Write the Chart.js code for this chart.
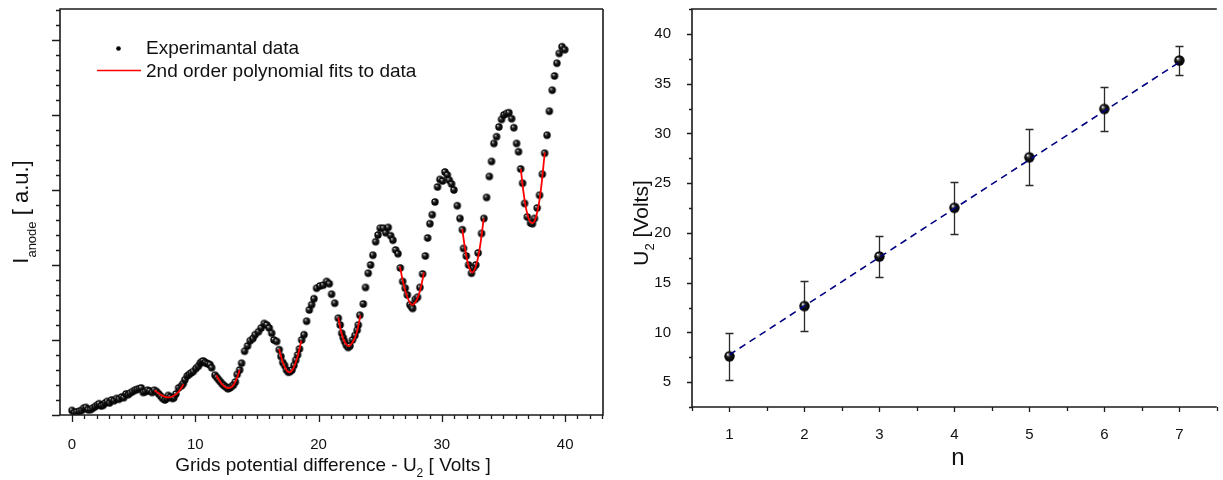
<!DOCTYPE html>
<html>
<head>
<meta charset="utf-8">
<title>Franck-Hertz</title>
<script src="https://cdn.jsdelivr.net/npm/chart.js@4.4.0/dist/chart.umd.min.js"></script>
<style>
  html, body { margin: 0; padding: 0; background: #fff; overflow: hidden; }
  #wrap { position: relative; width: 1223px; height: 480px; }
  #left { position: absolute; left: 0; top: 0; }
  #right { position: absolute; left: 612px; top: 0; }
</style>
</head>
<body>
<div id="wrap">
  <canvas id="left" width="612" height="480"></canvas>
  <canvas id="right" width="611" height="480"></canvas>
</div>
<script>
// anode current curve (arbitrary units, 1 = one major tick)
const volts = [
  0, 0.2, 0.38, 0.6, 0.78, 0.95, 1.13, 1.3, 1.5, 1.68, 1.87, 2.05, 2.2, 2.38, 2.54, 2.7, 2.86, 3.05, 3.22, 3.42,
  3.62, 3.82, 4.03, 4.2, 4.38, 4.55, 4.7, 4.9, 5.1, 5.28, 5.46, 5.62, 5.78, 5.95, 6.14, 6.3, 6.5, 6.68, 6.87, 7.04,
  7.2, 7.35, 7.54, 7.7, 7.81, 8.0, 8.15, 8.27, 8.43, 8.65, 8.89, 9.03, 9.16, 9.35, 9.5, 9.66, 9.84, 10.06, 10.25, 10.4,
  10.52, 10.65, 10.79, 10.92, 11.06, 11.2, 11.33,
  11.6, 11.75, 11.9, 12.05, 12.2, 12.35, 12.5, 12.65, 12.8, 12.95, 13.1, 13.25, 13.4, 13.6,
  13.76, 14.0, 14.24, 14.46, 14.68, 14.86, 15.13, 15.35, 15.6, 15.8, 16.0, 16.2, 16.38, 16.6,
  16.81, 16.95, 17.1, 17.25, 17.4, 17.55, 17.7, 17.85, 18.0, 18.15, 18.3, 18.45, 18.63,
  18.82, 19.03, 19.25, 19.44, 19.63, 19.84, 20.11, 20.38, 20.65, 20.87, 21.06, 21.31,
  21.6, 21.75, 21.88, 22.0, 22.11, 22.25, 22.4, 22.55, 22.75, 22.95, 23.13, 23.22, 23.35,
  23.63, 23.81, 24.03, 24.22, 24.41, 24.63, 24.82, 25.0, 25.25, 25.44, 25.65, 25.85, 26.03, 26.25, 26.44,
  26.63, 26.82, 27.03, 27.2, 27.41, 27.55, 27.63, 27.84, 28.03, 28.22, 28.44,
  28.66, 28.85, 29.03, 29.22, 29.44, 29.65, 29.84, 30.06, 30.25, 30.44, 30.6, 30.79, 30.98, 31.25, 31.47,
  31.66, 31.76, 31.98, 32.17, 32.4, 32.56, 32.75, 32.94, 33.22, 33.41,
  33.63, 33.85, 34.03, 34.22, 34.44, 34.63, 34.84, 35.03, 35.25, 35.44, 35.66, 35.84, 36.06, 36.22,
  36.39, 36.55, 36.71, 36.93, 37.19, 37.35, 37.51, 37.73, 37.92, 38.15, 38.34,
  38.53, 38.72, 38.95, 39.14, 39.33, 39.52, 39.74, 39.97
];
const current = [
  0.06, 0.03, 0.04, 0.05, 0.06, 0.09, 0.1, 0.07, 0.07, 0.09, 0.11, 0.13, 0.15, 0.12, 0.13, 0.16, 0.18, 0.16, 0.2, 0.19,
  0.22, 0.21, 0.24, 0.23, 0.28, 0.27, 0.29, 0.31, 0.33, 0.34, 0.35, 0.36, 0.3, 0.31, 0.33, 0.32, 0.3, 0.33, 0.31, 0.28,
  0.25, 0.22, 0.2, 0.22, 0.26, 0.24, 0.22, 0.23, 0.28, 0.36, 0.39, 0.42, 0.47, 0.52, 0.54, 0.56, 0.58, 0.62, 0.65, 0.69,
  0.71, 0.72, 0.7, 0.69, 0.68, 0.67, 0.63,
  0.53, 0.5, 0.47, 0.44, 0.41, 0.39, 0.37, 0.35, 0.36, 0.38, 0.4, 0.44, 0.54, 0.6,
  0.69, 0.85, 0.92, 0.99, 1.02, 1.07, 1.11, 1.16, 1.22, 1.2, 1.16, 1.09, 1.0, 0.98,
  0.87, 0.78, 0.7, 0.66, 0.6, 0.57, 0.58, 0.6, 0.66, 0.73, 0.8, 0.88, 1.0,
  1.07, 1.25, 1.4, 1.47, 1.55, 1.69, 1.72, 1.73, 1.78, 1.75, 1.61, 1.49,
  1.29, 1.2, 1.09, 1.03, 0.98, 0.93, 0.9, 0.92, 1.0, 1.06, 1.13, 1.2, 1.33,
  1.48, 1.7, 1.89, 2.0, 2.13, 2.31, 2.4, 2.49, 2.49, 2.43, 2.5, 2.39, 2.33, 2.2, 2.15,
  1.96, 1.78, 1.69, 1.6, 1.47, 1.44, 1.42, 1.54, 1.57, 1.7, 1.88,
  2.12, 2.36, 2.55, 2.67, 2.84, 3.04, 3.14, 3.12, 3.24, 3.2, 3.13, 3.08, 3.0, 2.79, 2.62,
  2.47, 2.22, 2.12, 2.0, 1.89, 1.96, 2.0, 2.16, 2.42, 2.62,
  2.9, 3.18, 3.38, 3.62, 3.71, 3.84, 3.94, 4.0, 4.02, 4.03, 3.95, 3.83, 3.62, 3.51,
  3.28, 3.09, 2.82, 2.64, 2.56, 2.55, 2.62, 2.76, 2.93, 3.21, 3.49,
  3.73, 4.05, 4.33, 4.52, 4.69, 4.82, 4.91, 4.87
];

// parabola fits around each minimum
const fitVolts = [
  [6.7, 7.1, 7.5, 7.9, 8.3, 8.7, 9.05],
  [11.7, 12.0, 12.3, 12.65, 13.0, 13.3, 13.6],
  [16.8, 17.1, 17.4, 17.65, 17.95, 18.3, 18.6],
  [21.6, 21.85, 22.1, 22.45, 22.8, 23.1, 23.4],
  [26.6, 26.9, 27.25, 27.6, 27.95, 28.25, 28.55],
  [31.65, 31.9, 32.15, 32.45, 32.75, 33.05, 33.4],
  [36.4, 36.7, 37.0, 37.3, 37.6, 37.95, 38.35]
];
const fitCurrent = [
  [0.33, 0.28, 0.245, 0.235, 0.26, 0.32, 0.41],
  [0.53, 0.45, 0.39, 0.36, 0.38, 0.46, 0.6],
  [0.88, 0.7, 0.6, 0.57, 0.62, 0.78, 0.99],
  [1.3, 1.1, 0.98, 0.92, 0.98, 1.1, 1.33],
  [1.98, 1.74, 1.55, 1.47, 1.53, 1.67, 1.9],
  [2.48, 2.2, 2.0, 1.9, 1.98, 2.2, 2.62],
  [3.28, 2.88, 2.64, 2.56, 2.62, 2.9, 3.5]
];

// minima positions vs order n
const order = [1, 2, 3, 4, 5, 6, 7];
const minimaU2 = [7.6, 12.65, 17.63, 22.52, 27.6, 32.46, 37.33];
const minimaErr = [2.35, 2.5, 2.06, 2.6, 2.8, 2.25, 1.45];
const lineN = [1, 7];
const lineU2 = [7.75, 37.15];

const voltTicks = [0, 10, 20, 30, 40];
const orderTicks = [1, 2, 3, 4, 5, 6, 7];
const u2Ticks = [5, 10, 15, 20, 25, 30, 35, 40];

const FONT = '"Liberation Sans", Arial, sans-serif';

function sphere(r, light) {
  const c = document.createElement('canvas');
  const d = Math.ceil(2 * r + 2);
  c.width = d;
  c.height = d;
  const g = c.getContext('2d');
  const m = d / 2;
  const grad = g.createRadialGradient(m - r * 0.35, m - r * 0.4, r * 0.05, m, m, r);
  grad.addColorStop(0, light);
  grad.addColorStop(0.2, '#6a6a6a');
  grad.addColorStop(0.45, '#141414');
  grad.addColorStop(1, '#000');
  g.fillStyle = grad;
  g.beginPath();
  g.arc(m, m, r, 0, Math.PI * 2);
  g.fill();
  return c;
}

// text with subscripts; parts = [text, size, dy]
function drawRich(ctx, parts, x, y, rotate) {
  ctx.save();
  ctx.translate(x, y);
  if (rotate) ctx.rotate(-Math.PI / 2);
  let w = 0;
  parts.forEach(p => { ctx.font = p[1] + 'px ' + FONT; w += ctx.measureText(p[0]).width; });
  let cx = -w / 2;
  ctx.fillStyle = '#111';
  ctx.textBaseline = 'alphabetic';
  ctx.textAlign = 'left';
  parts.forEach(p => {
    ctx.font = p[1] + 'px ' + FONT;
    ctx.fillText(p[0], cx, p[2] || 0);
    cx += ctx.measureText(p[0]).width;
  });
  ctx.restore();
}

const frame = {
  id: 'frame',
  afterDraw(chart, args, o) {
    const { ctx, chartArea: a, scales } = chart;
    ctx.save();
    ctx.strokeStyle = '#1b1b1b';
    ctx.lineWidth = 1.6;
    ctx.beginPath();
    ctx.moveTo(a.right, a.top);
    ctx.lineTo(a.left, a.top);
    ctx.lineTo(a.left, a.bottom);
    ctx.lineTo(a.right, a.bottom);
    if (o.closeRight) ctx.lineTo(a.right, a.top);
    ctx.stroke();

    ctx.lineWidth = 1.3;
    ctx.beginPath();
    const mark = (axis, v, len) => {
      const p = Math.round(scales[axis].getPixelForValue(v)) + 0.5;
      if (axis === 'x') { ctx.moveTo(p, a.bottom); ctx.lineTo(p, a.bottom + len); }
      else { ctx.moveTo(a.left, p); ctx.lineTo(a.left - len, p); }
    };
    ['x', 'y'].forEach(axis => {
      const s = scales[axis];
      const t = o[axis];
      for (let v = Math.ceil(s.min / t.minor - 1e-6) * t.minor; v <= s.max + 1e-6; v += t.minor) {
        const isMajor = Math.abs(Math.round(v / t.major) * t.major - v) < 1e-6;
        mark(axis, v, isMajor ? t.majorLen : t.minorLen);
      }
    });
    ctx.stroke();

    (o.titles || []).forEach(t => drawRich(ctx, t.parts, t.x, t.y, t.rotate));
    ctx.restore();
  }
};

const fixedTicks = values => scale => { scale.ticks = values.map(v => ({ value: v })); };
// size the axis box exactly and drop the label overhang padding chart.js adds
const fitBox = (prop, size) => scale => {
  scale[prop] = size;
  scale.paddingTop = 0;
  scale.paddingBottom = 0;
  scale.paddingLeft = 0;
  scale.paddingRight = 0;
};

// ---------- left chart ----------
const dotImg = sphere(3.7, '#c8c8c8');
const fitSets = fitVolts.map((vs, i) => ({
  label: i === 0 ? '2nd order polynomial fits to data' : 'fit' + i,
  data: vs.map((v, j) => ({ x: v, y: fitCurrent[i][j] })),
  showLine: true,
  borderColor: '#ff0000',
  borderWidth: 1.8,
  pointRadius: 0,
  tension: 0.4
}));

const legendIn = {
  id: 'legendIn',
  afterDraw(chart) {
    const ctx = chart.ctx;
    ctx.save();
    ctx.fillStyle = '#000';
    ctx.beginPath();
    ctx.arc(118.5, 48.5, 2.3, 0, Math.PI * 2);
    ctx.fill();
    ctx.strokeStyle = '#ff0000';
    ctx.lineWidth = 1.6;
    ctx.beginPath();
    ctx.moveTo(97, 70.5);
    ctx.lineTo(141, 70.5);
    ctx.stroke();
    ctx.fillStyle = '#111';
    ctx.font = '19px ' + FONT;
    ctx.textBaseline = 'alphabetic';
    ctx.fillText('Experimantal data', 146, 54);
    ctx.fillText('2nd order polynomial fits to data', 146, 77);
    ctx.restore();
  }
};

new Chart(document.getElementById('left'), {
  type: 'scatter',
  data: {
    datasets: [...fitSets, {
      label: 'Experimantal data',
      data: volts.map((v, i) => ({ x: v, y: current[i] })),
      pointStyle: dotImg,
      pointRadius: 3.7
    }]
  },
  options: {
    responsive: false,
    animation: false,
    layout: { padding: { top: 9, right: 9, left: 0, bottom: 0 } },
    plugins: {
      legend: { display: false },
      tooltip: { enabled: false },
      frame: {
        closeRight: true,
        x: { major: 10, minor: 1, majorLen: 7, minorLen: 4 },
        y: { major: 1, minor: 0.2, majorLen: 8, minorLen: 4 },
        titles: [
          { parts: [['Grids potential difference - U', 19], ['2', 12, 6], [' [ Volts ]', 19]], x: 333, y: 471, rotate: false },
          { parts: [['I', 22], ['anode', 13, 8], [' [ a.u.]', 22]], x: 28, y: 212, rotate: true }
        ]
      }
    },
    scales: {
      x: {
        type: 'linear', min: -0.97, max: 43.07,
        afterBuildTicks: fixedTicks(voltTicks),
        afterFit: fitBox('height', 65),
        grid: { display: false }, border: { display: false },
        ticks: { color: '#111', font: { family: FONT, size: 15 }, padding: 13 }
      },
      y: {
        min: 0, max: 5.413,
        afterFit: fitBox('width', 60),
        grid: { display: false }, border: { display: false },
        ticks: { display: false }
      }
    }
  },
  plugins: [frame, legendIn]
});

// ---------- right chart ----------
const ballImg = sphere(5.2, '#ffffff');

const errorBars = {
  id: 'errorBars',
  beforeDatasetsDraw(chart) {
    const { ctx, scales: { x, y } } = chart;
    ctx.save();
    ctx.strokeStyle = '#2a2a2a';
    ctx.lineWidth = 1.3;
    ctx.beginPath();
    order.forEach((n, i) => {
      const px = Math.round(x.getPixelForValue(n)) + 0.5;
      const top = Math.round(y.getPixelForValue(minimaU2[i] + minimaErr[i])) + 0.5;
      const bot = Math.round(y.getPixelForValue(minimaU2[i] - minimaErr[i])) + 0.5;
      ctx.moveTo(px, top); ctx.lineTo(px, bot);
      ctx.moveTo(px - 4, top); ctx.lineTo(px + 4, top);
      ctx.moveTo(px - 4, bot); ctx.lineTo(px + 4, bot);
    });
    ctx.stroke();
    ctx.restore();
  }
};

new Chart(document.getElementById('right'), {
  type: 'scatter',
  data: {
    datasets: [{
      label: 'linear fit',
      data: lineN.map((n, i) => ({ x: n, y: lineU2[i] })),
      showLine: true,
      borderColor: '#000080',
      borderWidth: 1.6,
      borderDash: [7, 5],
      pointRadius: 0
    }, {
      label: 'U2 minima',
      data: order.map((n, i) => ({ x: n, y: minimaU2[i] })),
      pointStyle: ballImg,
      pointRadius: 5.2
    }]
  },
  options: {
    responsive: false,
    animation: false,
    layout: { padding: { top: 9, right: 0, left: 0, bottom: 0 } },
    plugins: {
      legend: { display: false },
      tooltip: { enabled: false },
      frame: {
        closeRight: false,
        x: { major: 1, minor: 0.5, majorLen: 5, minorLen: 4 },
        y: { major: 5, minor: 2.5, majorLen: 5, minorLen: 3 },
        titles: [
          { parts: [['n', 24]], x: 346, y: 465, rotate: false },
          { parts: [['U', 21], ['2', 13, 6], [' [Volts]', 21]], x: 36, y: 223, rotate: true }
        ]
      }
    },
    scales: {
      x: {
        type: 'linear', min: 0.5, max: 7.5,
        afterBuildTicks: fixedTicks(orderTicks),
        afterFit: fitBox('height', 73),
        grid: { display: false }, border: { display: false },
        ticks: { color: '#111', font: { family: FONT, size: 15 }, padding: 11 }
      },
      y: {
        min: 2.5, max: 42.5,
        afterBuildTicks: fixedTicks(u2Ticks),
        afterFit: fitBox('width', 80),
        grid: { display: false }, border: { display: false },
        ticks: { color: '#111', font: { family: FONT, size: 15 }, padding: 13 }
      }
    }
  },
  plugins: [frame, errorBars]
});
</script>
</body>
</html>
